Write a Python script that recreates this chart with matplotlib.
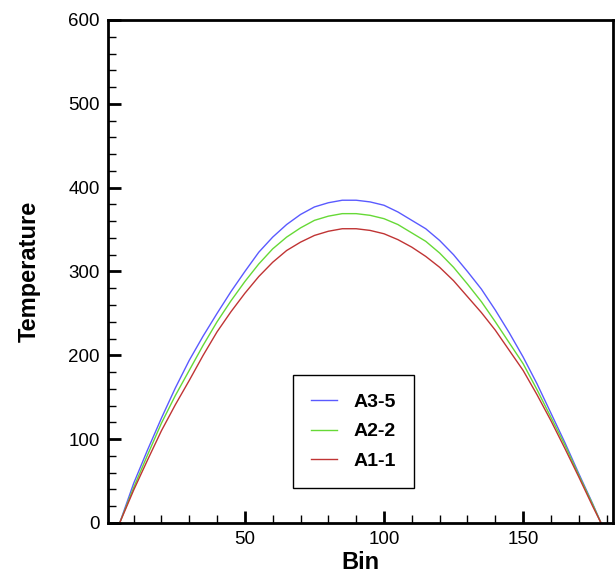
import matplotlib.pyplot as plt
from matplotlib.ticker import MultipleLocator

plt.rcParams['font.family'] = ['Liberation Sans', 'DejaVu Sans']

bins = [5, 10, 15, 20, 25, 30, 35, 40, 45, 50, 55, 60, 65, 70, 75, 80, 85, 90,
        95, 100, 105, 110, 115, 120, 125, 130, 135, 140, 145, 150, 155, 160,
        165, 170, 175, 178]

temp_a35 = [0, 47, 87, 125, 161, 194, 223, 250, 276, 300, 323, 341, 356, 368,
            377, 382, 385, 385, 383, 379, 371, 361, 351, 337, 320, 300, 279,
            254, 227, 198, 166, 131, 96, 59, 23, 0]
temp_a22 = [0, 42, 81, 119, 152, 182, 212, 240, 265, 288, 309, 327, 341, 352,
            361, 366, 369, 369, 367, 363, 356, 346, 336, 322, 305, 285, 264,
            240, 215, 190, 159, 126, 93, 57, 22, 0]
temp_a11 = [0, 39, 75, 110, 141, 170, 200, 228, 252, 274, 294, 311, 325, 335,
            343, 348, 351, 351, 349, 345, 338, 329, 318, 305, 289, 270, 251,
            230, 206, 182, 153, 122, 89, 55, 20, 0]

series = [('A3-5', temp_a35, '#5a5aff'),
          ('A2-2', temp_a22, '#66d936'),
          ('A1-1', temp_a11, '#c03434')]

fig = plt.figure(figsize=(6.16, 5.73), dpi=100)
ax = fig.add_axes([0.1753, 0.0873, 0.8198, 0.8778])

for name, ys, col in series:
    ax.plot(bins, ys, color=col, lw=1.0, label=name)

ax.set_xlim(0.8, 182.3)
ax.set_ylim(0, 600)
ax.xaxis.set_major_locator(MultipleLocator(50))
ax.xaxis.set_minor_locator(MultipleLocator(10))
ax.yaxis.set_major_locator(MultipleLocator(100))
ax.yaxis.set_minor_locator(MultipleLocator(20))

for s in ax.spines.values():
    s.set_linewidth(2.0)
ax.tick_params(which='both', direction='in', top=False, right=False,
               labelsize=13.5)
ax.tick_params(which='major', length=9, width=2.0, pad=6)
ax.tick_params(which='minor', length=6, width=1.0)

ax.set_xlabel('Bin', fontsize=17, fontweight='bold', labelpad=2)
ax.set_ylabel('Temperature', fontsize=17, fontweight='bold', labelpad=20)

leg = ax.legend(loc='upper left', bbox_to_anchor=(0.366, 0.294),
                prop={'weight': 'bold', 'size': 14}, fancybox=False,
                framealpha=1, edgecolor='black', handlelength=1.3,
                handletextpad=0.85, labelspacing=0.6, borderpad=0.95,
                borderaxespad=0)
leg.get_frame().set_linewidth(1.0)

fig.savefig('out.png', dpi=100)
